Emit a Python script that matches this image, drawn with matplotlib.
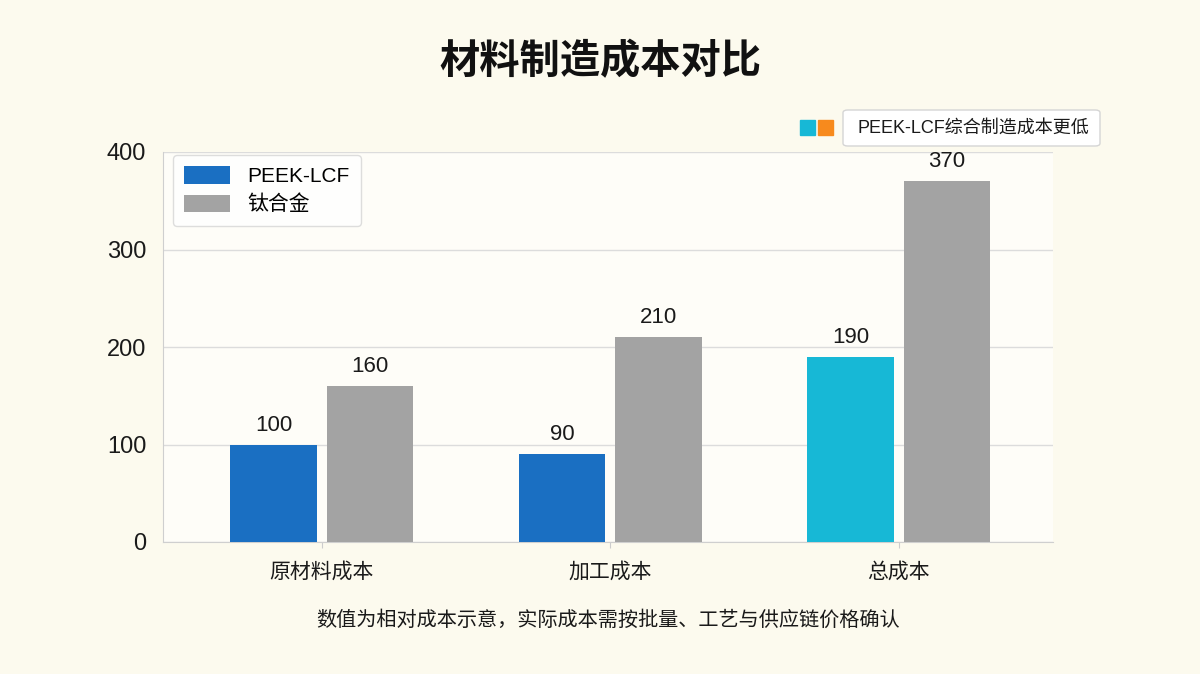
import numpy as np
import matplotlib.pyplot as plt
from matplotlib.patches import Rectangle, FancyBboxPatch

plt.rcParams['font.family'] = ['Liberation Sans', 'Noto Sans CJK SC', 'DejaVu Sans']

categories = ["原材料成本", "加工成本", "总成本"]
peek = [100, 90, 190]
ti = [160, 210, 370]
peek_colors = ["#1a6fc2", "#1a6fc2", "#17b8d6"]
ti_color = "#a3a3a3"

fig = plt.figure(figsize=(12, 6.74), dpi=100)
fig.patch.set_facecolor("#fcfaee")
ax = fig.add_axes([163/1200, 1-542/674, 890/1200, 390/674])
ax.set_facecolor("#fefdf8")

x = np.arange(len(categories))
w = 0.30
off = 0.167
b1 = ax.bar(x - off, peek, w, color=peek_colors, label="PEEK-LCF", zorder=3)
b2 = ax.bar(x + off, ti, w, color=ti_color, label="钛合金", zorder=3)

for rect, v in zip(list(b1) + list(b2), peek + ti):
    ax.text(rect.get_x() + rect.get_width()/2, v + 9, str(v),
            ha="center", va="bottom", fontsize=16, color="#1a1a1a")

ax.set_xlim(-0.55, 2.535)
ax.set_ylim(0, 400)
ax.set_yticks([0, 100, 200, 300, 400])
ax.tick_params(axis="y", length=0, labelsize=17, pad=12, colors="#1a1a1a")
ax.tick_params(axis="x", length=4, color="#cccccc", labelsize=15, pad=10, colors="#1a1a1a")
ax.set_xticks(x)
ax.set_xticklabels(categories)
ax.grid(axis="y", color="#dcdcdc", linewidth=1, zorder=0)
for s in ["top", "right"]:
    ax.spines[s].set_visible(False)
for s in ["left", "bottom"]:
    ax.spines[s].set_color("#cfcfcf")

leg = ax.legend(loc="upper left", bbox_to_anchor=(173/1200, 1-155/674),
                bbox_transform=fig.transFigure, borderaxespad=0, fontsize=15,
                frameon=True, fancybox=True, edgecolor="#d5d5d5",
                handlelength=2.2, handleheight=0.9, handletextpad=0.8,
                borderpad=0.55, labelspacing=0.4)
leg.get_frame().set_facecolor("white")

fig.text(0.5, 1-62/674, "材料制造成本对比", ha="center", va="center",
         fontsize=29, fontweight="bold", color="#111111")

# note box top right
fig.patches.append(Rectangle((800/1200, 1-135/674), 15/1200, 15/674,
                             transform=fig.transFigure, color="#17b8d6"))
fig.patches.append(Rectangle((818/1200, 1-135/674), 15/1200, 15/674,
                             transform=fig.transFigure, color="#f78a1d"))
fig.patches.append(FancyBboxPatch((843/1200, 1-146/674), 257/1200, 36/674,
                                  boxstyle="round,pad=0,rounding_size=0.004",
                                  transform=fig.transFigure, facecolor="white",
                                  edgecolor="#d5d5d5", linewidth=1))
fig.text(973/1200, 1-128/674, "PEEK-LCF综合制造成本更低", ha="center", va="center",
         fontsize=13, color="#1a1a1a")

fig.text(608/1200, 1-620/674, "数值为相对成本示意，实际成本需按批量、工艺与供应链价格确认",
         ha="center", va="center", fontsize=14.5, color="#1a1a1a")

fig.savefig("out.png", dpi=100, facecolor=fig.get_facecolor())
